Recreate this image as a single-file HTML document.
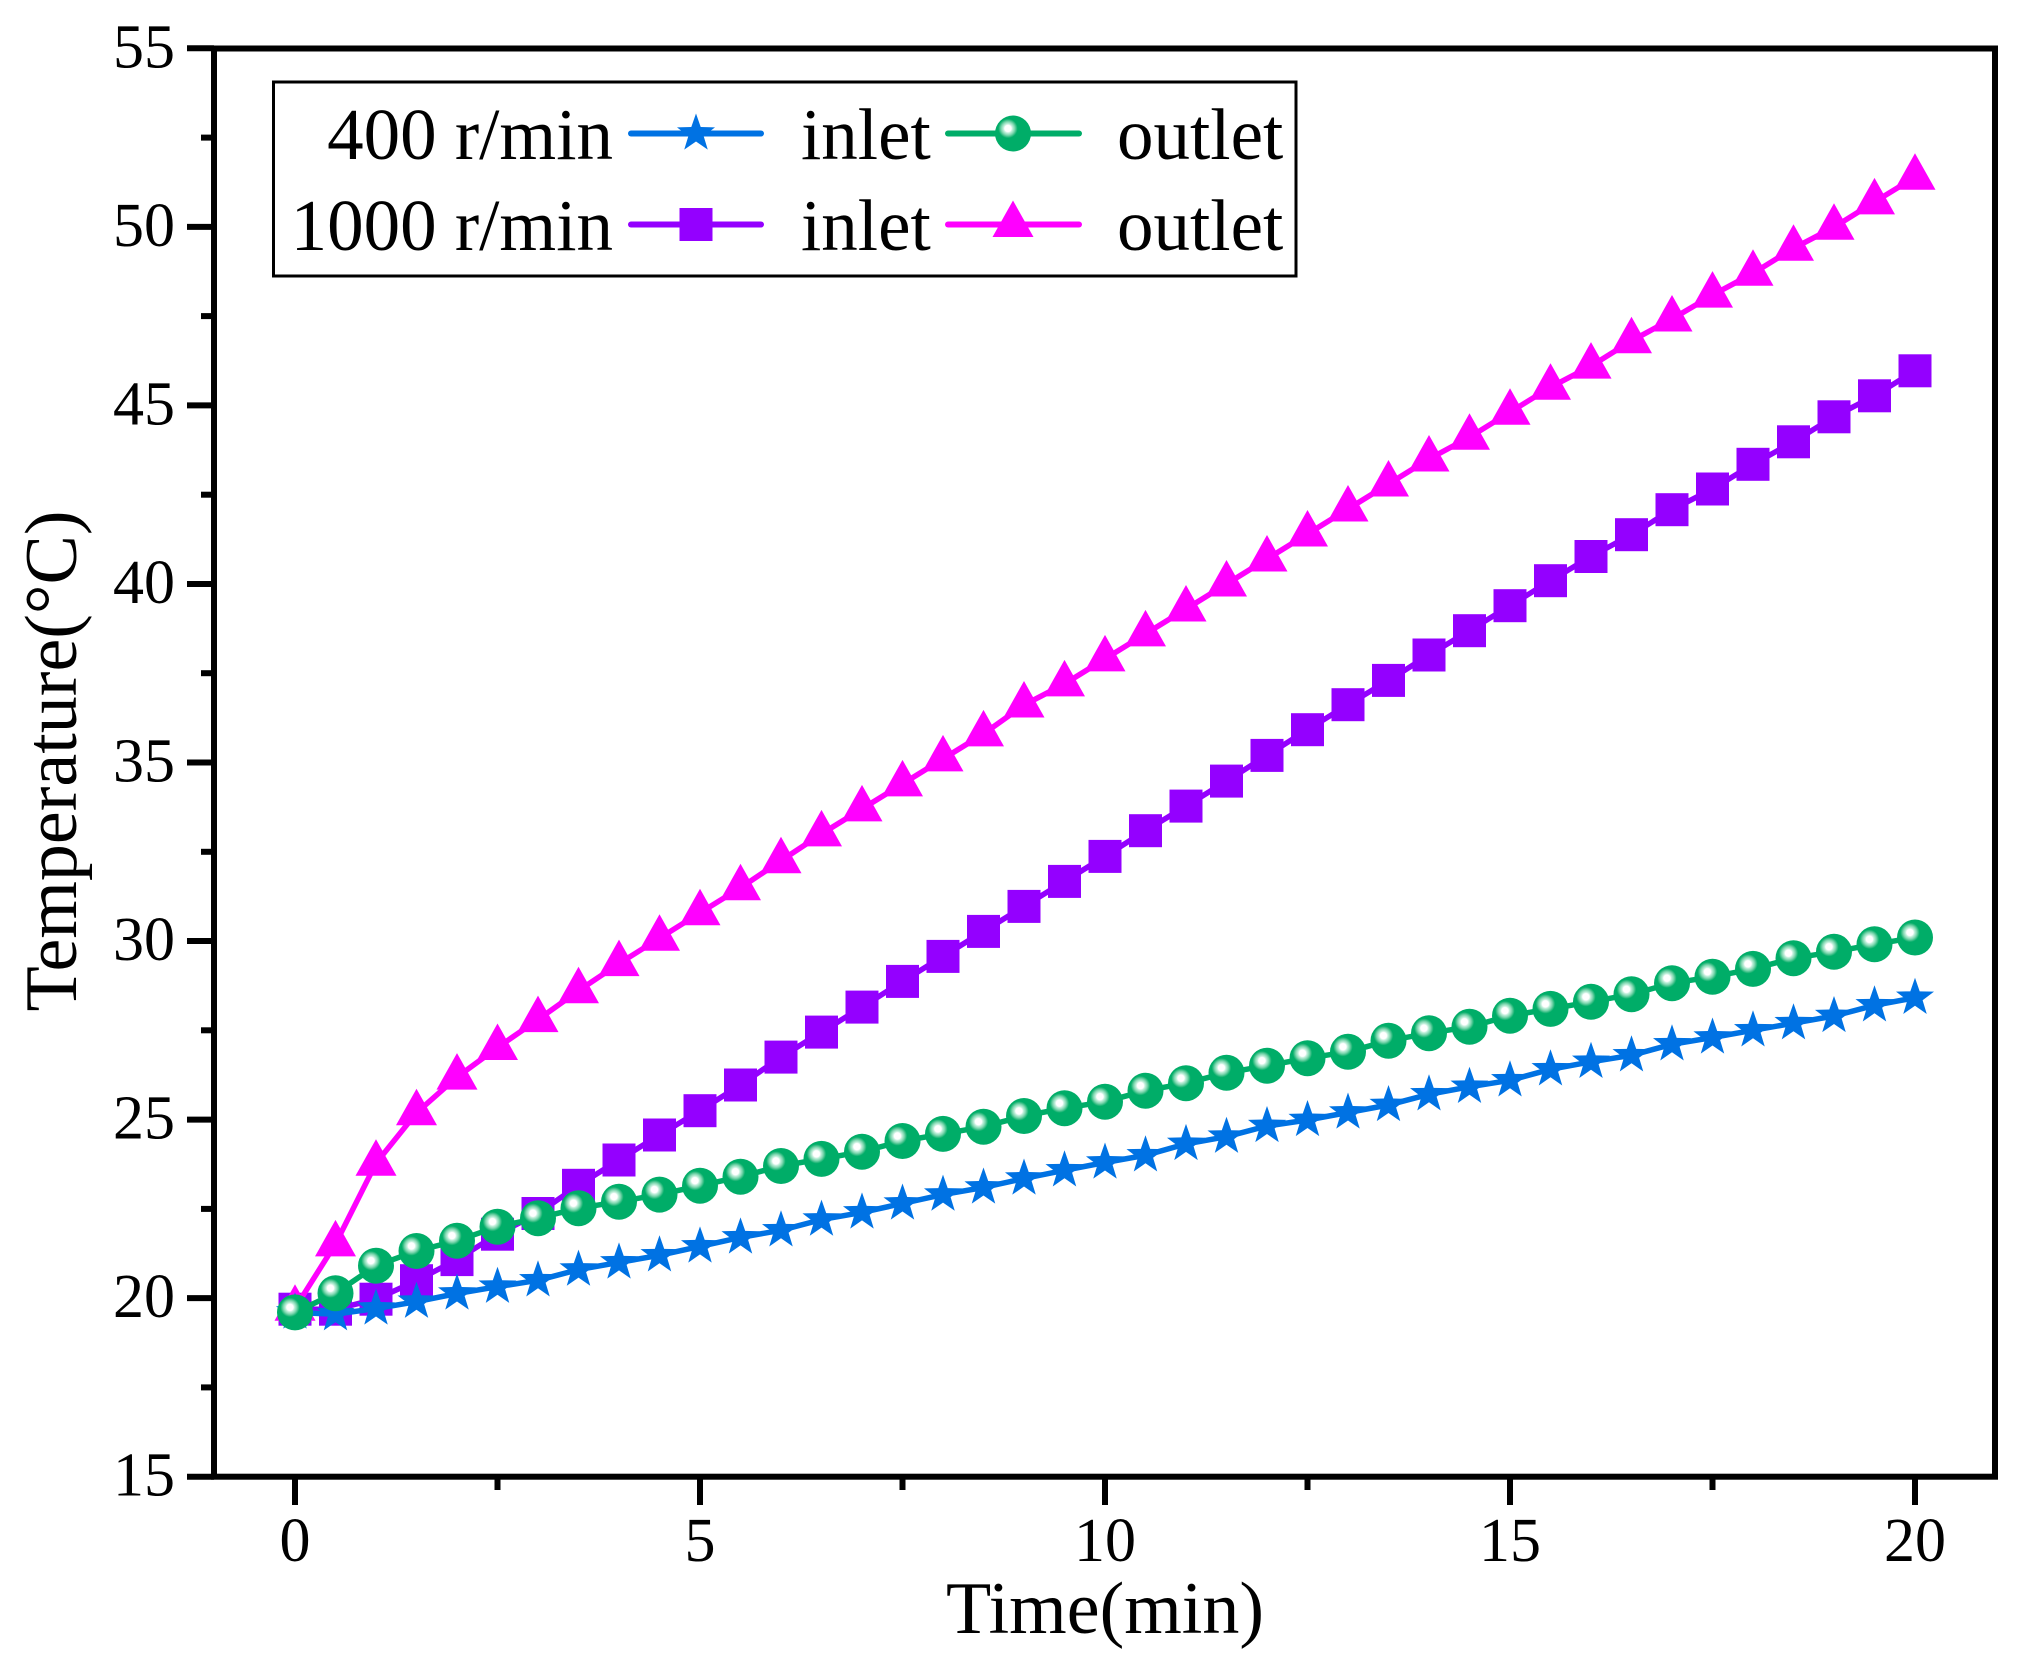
<!DOCTYPE html>
<html>
<head>
<meta charset="utf-8">
<style>
html,body{margin:0;padding:0;background:#fff;}
svg{display:block;}
text{font-family:"Liberation Serif","Times New Roman",serif;fill:#000;}
</style>
</head>
<body>
<svg width="2021" height="1664" viewBox="0 0 2021 1664" xmlns="http://www.w3.org/2000/svg">
<defs>
  <radialGradient id="gball" cx="0.36" cy="0.36" r="0.27" fx="0.36" fy="0.36">
    <stop offset="0" stop-color="#ffffff"/>
    <stop offset="0.33" stop-color="#ffffff"/>
    <stop offset="0.45" stop-color="#c8f1df"/>
    <stop offset="0.7" stop-color="#7ad5ad"/>
    <stop offset="0.9" stop-color="#28b97c"/>
    <stop offset="1" stop-color="#00ad68"/>
  </radialGradient>
  <rect id="sq" x="-16.5" y="-16.5" width="33" height="33" fill="#9400ff"/>
  <polygon id="tri" points="0,-24 20.5,12.5 -20.5,12.5" fill="#ff00ff"/>
  <polygon id="star" points="0,-20 4.70,-6.47 19.02,-6.18 7.61,2.47 11.76,16.18 0,8 -11.76,16.18 -7.61,2.47 -19.02,-6.18 -4.70,-6.47" fill="#0072e3"/>
  <circle id="ball" cx="0" cy="0" r="18" fill="url(#gball)"/>
</defs>

<rect x="0" y="0" width="2021" height="1664" fill="#fff"/>

<!-- Series: 1000 r/min inlet (purple squares) -->
<polyline fill="none" stroke="#9400ff" stroke-width="5.5" stroke-linejoin="round" stroke-linecap="round"
points="295,1309.2 335.5,1309.2 376,1299.2 416.5,1280.7 457,1259.6 497.5,1234.2 538,1213.5 578.5,1185.3 619,1160.0 659.5,1135.0 700,1110.7 740.5,1085.0 781,1057.1 821.5,1032.1 862,1007.1 902.5,981.4 943,956.4 983.5,931.4 1024,906.4 1064.5,881.4 1105,856.4 1145.5,830.7 1186,806.1 1226.5,781.1 1267,755.4 1307.5,729.7 1348,704.7 1388.5,680.4 1429,655.0 1469.5,630.7 1510,605.7 1550.5,580.7 1591,556.5 1631.5,534.7 1672,509.7 1712.5,489.0 1753,464.3 1793.5,441.8 1834,416.8 1874.5,395.8 1915,370.8"/>
<g>
<use href="#sq" x="295" y="1309.2"/><use href="#sq" x="335.5" y="1309.2"/><use href="#sq" x="376" y="1299.2"/><use href="#sq" x="416.5" y="1280.7"/><use href="#sq" x="457" y="1259.6"/><use href="#sq" x="497.5" y="1234.2"/><use href="#sq" x="538" y="1213.5"/><use href="#sq" x="578.5" y="1185.3"/><use href="#sq" x="619" y="1160.0"/><use href="#sq" x="659.5" y="1135.0"/><use href="#sq" x="700" y="1110.7"/><use href="#sq" x="740.5" y="1085.0"/><use href="#sq" x="781" y="1057.1"/><use href="#sq" x="821.5" y="1032.1"/><use href="#sq" x="862" y="1007.1"/><use href="#sq" x="902.5" y="981.4"/><use href="#sq" x="943" y="956.4"/><use href="#sq" x="983.5" y="931.4"/><use href="#sq" x="1024" y="906.4"/><use href="#sq" x="1064.5" y="881.4"/><use href="#sq" x="1105" y="856.4"/><use href="#sq" x="1145.5" y="830.7"/><use href="#sq" x="1186" y="806.1"/><use href="#sq" x="1226.5" y="781.1"/><use href="#sq" x="1267" y="755.4"/><use href="#sq" x="1307.5" y="729.7"/><use href="#sq" x="1348" y="704.7"/><use href="#sq" x="1388.5" y="680.4"/><use href="#sq" x="1429" y="655.0"/><use href="#sq" x="1469.5" y="630.7"/><use href="#sq" x="1510" y="605.7"/><use href="#sq" x="1550.5" y="580.7"/><use href="#sq" x="1591" y="556.5"/><use href="#sq" x="1631.5" y="534.7"/><use href="#sq" x="1672" y="509.7"/><use href="#sq" x="1712.5" y="489.0"/><use href="#sq" x="1753" y="464.3"/><use href="#sq" x="1793.5" y="441.8"/><use href="#sq" x="1834" y="416.8"/><use href="#sq" x="1874.5" y="395.8"/><use href="#sq" x="1915" y="370.8"/>
</g>

<!-- Series: 1000 r/min outlet (magenta triangles) -->
<polyline fill="none" stroke="#ff00ff" stroke-width="5.5" stroke-linejoin="round" stroke-linecap="round"
points="295,1308.2 335.5,1243.9 376,1163.2 416.5,1112.8 457,1077.1 497.5,1047.5 538,1019.6 578.5,990.7 619,963.6 659.5,938.2 700,912.8 740.5,887.8 781,860.7 821.5,833.9 862,808.9 902.5,783.9 943,758.9 983.5,733.9 1024,705.0 1064.5,683.9 1105,658.9 1145.5,633.9 1186,609.0 1226.5,584.0 1267,559.0 1307.5,534.0 1348,509.0 1388.5,484.0 1429,459.0 1469.5,437.2 1510,412.2 1550.5,387.2 1591,366.1 1631.5,340.8 1672,319.0 1712.5,295.1 1753,273.3 1793.5,248.3 1834,227.2 1874.5,201.9 1915,177.2"/>
<g>
<use href="#tri" x="295" y="1308.2"/><use href="#tri" x="335.5" y="1243.9"/><use href="#tri" x="376" y="1163.2"/><use href="#tri" x="416.5" y="1112.8"/><use href="#tri" x="457" y="1077.1"/><use href="#tri" x="497.5" y="1047.5"/><use href="#tri" x="538" y="1019.6"/><use href="#tri" x="578.5" y="990.7"/><use href="#tri" x="619" y="963.6"/><use href="#tri" x="659.5" y="938.2"/><use href="#tri" x="700" y="912.8"/><use href="#tri" x="740.5" y="887.8"/><use href="#tri" x="781" y="860.7"/><use href="#tri" x="821.5" y="833.9"/><use href="#tri" x="862" y="808.9"/><use href="#tri" x="902.5" y="783.9"/><use href="#tri" x="943" y="758.9"/><use href="#tri" x="983.5" y="733.9"/><use href="#tri" x="1024" y="705.0"/><use href="#tri" x="1064.5" y="683.9"/><use href="#tri" x="1105" y="658.9"/><use href="#tri" x="1145.5" y="633.9"/><use href="#tri" x="1186" y="609.0"/><use href="#tri" x="1226.5" y="584.0"/><use href="#tri" x="1267" y="559.0"/><use href="#tri" x="1307.5" y="534.0"/><use href="#tri" x="1348" y="509.0"/><use href="#tri" x="1388.5" y="484.0"/><use href="#tri" x="1429" y="459.0"/><use href="#tri" x="1469.5" y="437.2"/><use href="#tri" x="1510" y="412.2"/><use href="#tri" x="1550.5" y="387.2"/><use href="#tri" x="1591" y="366.1"/><use href="#tri" x="1631.5" y="340.8"/><use href="#tri" x="1672" y="319.0"/><use href="#tri" x="1712.5" y="295.1"/><use href="#tri" x="1753" y="273.3"/><use href="#tri" x="1793.5" y="248.3"/><use href="#tri" x="1834" y="227.2"/><use href="#tri" x="1874.5" y="201.9"/><use href="#tri" x="1915" y="177.2"/>
</g>

<!-- Series: 400 r/min inlet (blue stars) -->
<polyline fill="none" stroke="#0072e3" stroke-width="5.5" stroke-linejoin="round" stroke-linecap="round"
points="295,1312.4 335.5,1314.2 376,1308.5 416.5,1301.7 457,1293.5 497.5,1286.7 538,1280.3 578.5,1269.6 619,1262.4 659.5,1255.3 700,1246.4 740.5,1237.4 781,1230.3 821.5,1219.6 862,1212.4 902.5,1203.5 943,1194.6 983.5,1187.5 1024,1178.5 1064.5,1170.3 1105,1162.5 1145.5,1155.3 1186,1143.9 1226.5,1136.7 1267,1126.0 1307.5,1120.0 1348,1112.5 1388.5,1105.0 1429,1094.3 1469.5,1086.8 1510,1080.3 1550.5,1069.3 1591,1061.8 1631.5,1055.3 1672,1044.3 1712.5,1037.5 1753,1030.3 1793.5,1023.2 1834,1016.0 1874.5,1005.3 1915,997.8"/>
<g>
<use href="#star" x="295" y="1312.4"/><use href="#star" x="335.5" y="1314.2"/><use href="#star" x="376" y="1308.5"/><use href="#star" x="416.5" y="1301.7"/><use href="#star" x="457" y="1293.5"/><use href="#star" x="497.5" y="1286.7"/><use href="#star" x="538" y="1280.3"/><use href="#star" x="578.5" y="1269.6"/><use href="#star" x="619" y="1262.4"/><use href="#star" x="659.5" y="1255.3"/><use href="#star" x="700" y="1246.4"/><use href="#star" x="740.5" y="1237.4"/><use href="#star" x="781" y="1230.3"/><use href="#star" x="821.5" y="1219.6"/><use href="#star" x="862" y="1212.4"/><use href="#star" x="902.5" y="1203.5"/><use href="#star" x="943" y="1194.6"/><use href="#star" x="983.5" y="1187.5"/><use href="#star" x="1024" y="1178.5"/><use href="#star" x="1064.5" y="1170.3"/><use href="#star" x="1105" y="1162.5"/><use href="#star" x="1145.5" y="1155.3"/><use href="#star" x="1186" y="1143.9"/><use href="#star" x="1226.5" y="1136.7"/><use href="#star" x="1267" y="1126.0"/><use href="#star" x="1307.5" y="1120.0"/><use href="#star" x="1348" y="1112.5"/><use href="#star" x="1388.5" y="1105.0"/><use href="#star" x="1429" y="1094.3"/><use href="#star" x="1469.5" y="1086.8"/><use href="#star" x="1510" y="1080.3"/><use href="#star" x="1550.5" y="1069.3"/><use href="#star" x="1591" y="1061.8"/><use href="#star" x="1631.5" y="1055.3"/><use href="#star" x="1672" y="1044.3"/><use href="#star" x="1712.5" y="1037.5"/><use href="#star" x="1753" y="1030.3"/><use href="#star" x="1793.5" y="1023.2"/><use href="#star" x="1834" y="1016.0"/><use href="#star" x="1874.5" y="1005.3"/><use href="#star" x="1915" y="997.8"/>
</g>

<!-- Series: 400 r/min outlet (green balls) -->
<polyline fill="none" stroke="#00ad68" stroke-width="5.5" stroke-linejoin="round" stroke-linecap="round"
points="295,1312.4 335.5,1293.2 376,1265.7 416.5,1251.0 457,1240.7 497.5,1226.7 538,1218.2 578.5,1208.2 619,1201.7 659.5,1194.6 700,1185.7 740.5,1176.7 781,1166.0 821.5,1158.9 862,1151.7 902.5,1141.0 943,1133.9 983.5,1126.7 1024,1116.0 1064.5,1108.2 1105,1101.7 1145.5,1090.7 1186,1083.2 1226.5,1072.8 1267,1065.7 1307.5,1058.2 1348,1051.8 1388.5,1040.7 1429,1033.2 1469.5,1026.8 1510,1015.7 1550.5,1008.9 1591,1001.8 1631.5,994.3 1672,983.2 1712.5,976.8 1753,968.9 1793.5,958.2 1834,951.8 1874.5,944.3 1915,937.5"/>
<g>
<use href="#ball" x="295" y="1312.4"/><use href="#ball" x="335.5" y="1293.2"/><use href="#ball" x="376" y="1265.7"/><use href="#ball" x="416.5" y="1251.0"/><use href="#ball" x="457" y="1240.7"/><use href="#ball" x="497.5" y="1226.7"/><use href="#ball" x="538" y="1218.2"/><use href="#ball" x="578.5" y="1208.2"/><use href="#ball" x="619" y="1201.7"/><use href="#ball" x="659.5" y="1194.6"/><use href="#ball" x="700" y="1185.7"/><use href="#ball" x="740.5" y="1176.7"/><use href="#ball" x="781" y="1166.0"/><use href="#ball" x="821.5" y="1158.9"/><use href="#ball" x="862" y="1151.7"/><use href="#ball" x="902.5" y="1141.0"/><use href="#ball" x="943" y="1133.9"/><use href="#ball" x="983.5" y="1126.7"/><use href="#ball" x="1024" y="1116.0"/><use href="#ball" x="1064.5" y="1108.2"/><use href="#ball" x="1105" y="1101.7"/><use href="#ball" x="1145.5" y="1090.7"/><use href="#ball" x="1186" y="1083.2"/><use href="#ball" x="1226.5" y="1072.8"/><use href="#ball" x="1267" y="1065.7"/><use href="#ball" x="1307.5" y="1058.2"/><use href="#ball" x="1348" y="1051.8"/><use href="#ball" x="1388.5" y="1040.7"/><use href="#ball" x="1429" y="1033.2"/><use href="#ball" x="1469.5" y="1026.8"/><use href="#ball" x="1510" y="1015.7"/><use href="#ball" x="1550.5" y="1008.9"/><use href="#ball" x="1591" y="1001.8"/><use href="#ball" x="1631.5" y="994.3"/><use href="#ball" x="1672" y="983.2"/><use href="#ball" x="1712.5" y="976.8"/><use href="#ball" x="1753" y="968.9"/><use href="#ball" x="1793.5" y="958.2"/><use href="#ball" x="1834" y="951.8"/><use href="#ball" x="1874.5" y="944.3"/><use href="#ball" x="1915" y="937.5"/>
</g>

<!-- Axes frame -->
<rect x="214" y="48.5" width="1781" height="1428.2" fill="none" stroke="#000" stroke-width="6"/>

<!-- Y ticks -->
<g stroke="#000" stroke-width="6">
  <line x1="187" y1="1476.7" x2="214" y2="1476.7"/>
  <line x1="187" y1="1298.15" x2="214" y2="1298.15"/>
  <line x1="187" y1="1119.6" x2="214" y2="1119.6"/>
  <line x1="187" y1="941.05" x2="214" y2="941.05"/>
  <line x1="187" y1="762.5" x2="214" y2="762.5"/>
  <line x1="187" y1="583.95" x2="214" y2="583.95"/>
  <line x1="187" y1="405.4" x2="214" y2="405.4"/>
  <line x1="187" y1="226.85" x2="214" y2="226.85"/>
  <line x1="187" y1="48.3" x2="214" y2="48.3"/>
  <line x1="201" y1="1387.4" x2="214" y2="1387.4"/>
  <line x1="201" y1="1208.9" x2="214" y2="1208.9"/>
  <line x1="201" y1="1030.3" x2="214" y2="1030.3"/>
  <line x1="201" y1="851.8" x2="214" y2="851.8"/>
  <line x1="201" y1="673.2" x2="214" y2="673.2"/>
  <line x1="201" y1="494.7" x2="214" y2="494.7"/>
  <line x1="201" y1="316.1" x2="214" y2="316.1"/>
  <line x1="201" y1="137.6" x2="214" y2="137.6"/>
</g>
<!-- X ticks -->
<g stroke="#000" stroke-width="6">
  <line x1="295" y1="1476.7" x2="295" y2="1505"/>
  <line x1="700" y1="1476.7" x2="700" y2="1505"/>
  <line x1="1105" y1="1476.7" x2="1105" y2="1505"/>
  <line x1="1510" y1="1476.7" x2="1510" y2="1505"/>
  <line x1="1915" y1="1476.7" x2="1915" y2="1505"/>
  <line x1="497.5" y1="1476.7" x2="497.5" y2="1490"/>
  <line x1="902.5" y1="1476.7" x2="902.5" y2="1490"/>
  <line x1="1307.5" y1="1476.7" x2="1307.5" y2="1490"/>
  <line x1="1712.5" y1="1476.7" x2="1712.5" y2="1490"/>
</g>

<!-- Y tick labels -->
<g font-size="62" text-anchor="end">
  <text x="175" y="1495.7">15</text>
  <text x="175" y="1317.2">20</text>
  <text x="175" y="1138.6">25</text>
  <text x="175" y="960.1">30</text>
  <text x="175" y="781.5">35</text>
  <text x="175" y="603">40</text>
  <text x="175" y="424.4">45</text>
  <text x="175" y="245.9">50</text>
  <text x="175" y="67.3">55</text>
</g>
<!-- X tick labels -->
<g font-size="62" text-anchor="middle">
  <text x="295" y="1561">0</text>
  <text x="700" y="1561">5</text>
  <text x="1105" y="1561">10</text>
  <text x="1510" y="1561">15</text>
  <text x="1915" y="1561">20</text>
</g>

<!-- Axis titles -->
<text x="1105" y="1633" font-size="74" text-anchor="middle">Time(min)</text>
<text transform="translate(76,761) rotate(-90)" font-size="74" text-anchor="middle">Temperature(°C)</text>

<!-- Legend -->
<rect x="273.5" y="82" width="1022.5" height="194" fill="#fff" stroke="#000" stroke-width="3"/>
<g font-size="73">
  <text x="613" y="159" text-anchor="end">400 r/min</text>
  <text x="613" y="250" text-anchor="end">1000 r/min</text>
  <text x="801" y="159">inlet</text>
  <text x="801" y="250">inlet</text>
  <text x="1117" y="159">outlet</text>
  <text x="1117" y="250">outlet</text>
</g>
<g stroke-width="6" stroke-linecap="round">
  <line x1="631" y1="133.5" x2="761" y2="133.5" stroke="#0072e3"/>
  <line x1="948" y1="133.5" x2="1079" y2="133.5" stroke="#00ad68"/>
  <line x1="631" y1="224.5" x2="761" y2="224.5" stroke="#9400ff"/>
  <line x1="948" y1="224.5" x2="1079" y2="224.5" stroke="#ff00ff"/>
</g>
<use href="#star" x="696" y="133.5"/>
<use href="#ball" x="1013" y="133.5"/>
<use href="#sq" x="696" y="224.5"/>
<use href="#tri" x="1013" y="224.5"/>
</svg>
</body>
</html>
